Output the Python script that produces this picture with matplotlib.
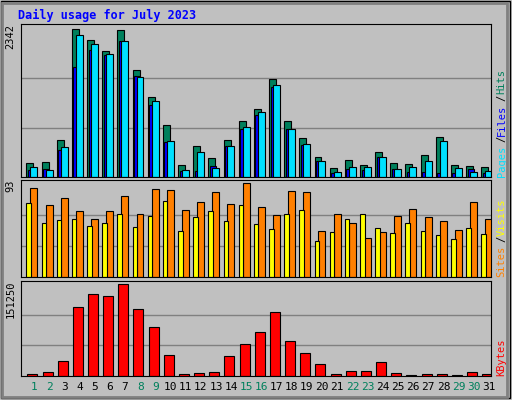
import matplotlib
matplotlib.use("Agg")
import matplotlib.pyplot as plt
import numpy as np

days = list(range(1, 32))
weekend = [1, 2, 8, 9, 15, 16, 22, 23, 29, 30]
hits = [228,244,593,2342,2167,1992,2326,1690,1261,816,196,498,307,593,895,1070,1547,895,625,323,148,276,196,403,228,212,355,641,196,180,164]
files = [164,117,482,2247,2103,1945,2151,1579,1198,578,117,403,148,498,800,1023,1452,768,530,260,85,164,164,323,132,164,260,578,148,85,101]
pages = [117,132,434,1738,2008,1929,2151,1595,1134,562,101,101,180,498,768,975,1420,768,514,260,69,132,117,323,132,85,85,69,69,132,69]
visits = [88,71,78,65,58,65,80,63,87,86,66,74,84,72,93,69,62,85,84,46,63,54,39,45,61,67,60,56,47,74,58]
sites = [73,54,57,58,51,54,63,50,61,75,46,60,65,56,71,53,48,63,66,36,45,58,63,49,44,54,46,42,38,49,43]
kbytes = [3860,7170,25400,113100,134700,131400,151250,109800,80000,35300,3860,5500,7170,33700,53500,71800,104900,56900,38600,20400,3860,8800,8800,23700,5500,2200,3860,3860,2200,7170,3860]

mono = "DejaVu Sans Mono"
fig = plt.figure(figsize=(5.12, 4.0), dpi=100, facecolor="#C0C0C0")
x = np.arange(31)
bg = "#C0C0C0"

def mkax(bottom, height, top):
    ax = fig.add_axes([0.041, bottom, 0.918, height], facecolor=bg)
    ax.set_xlim(-0.86, 30.14)
    ax.set_ylim(0, top * 1.035)
    for f in (1/3, 2/3):
        ax.axhline(top * f, color="#808080", lw=1, zorder=0)
    ax.set_xticks([]); ax.set_yticks([])
    for s in ax.spines.values():
        s.set_color("black")
    return ax

def maxlabel(ax, v):
    ax.text(-0.012, 1.0, str(v), transform=ax.transAxes, rotation=90, ha="right", va="top",
            fontsize=7.5, family=mono)

ax1 = mkax(0.5575, 0.3825, max(hits))
kw = dict(edgecolor="black", linewidth=0.8, align="edge")
ax1.bar(x - 0.5, hits, 0.46, color="#00805C", **kw)
ax1.bar(x - 0.4, pages, 0.4, color="#0000FF", **kw)
ax1.bar(x - 0.24, files, 0.46, color="#00E0FF", **kw)
maxlabel(ax1, max(hits))

ax2 = mkax(0.3075, 0.2425, max(visits))
ax2.bar(x - 0.24, visits, 0.46, color="#FF8000", **kw)
ax2.bar(x - 0.5, sites, 0.3, color="#FFFF00", **kw)
maxlabel(ax2, max(visits))

ax3 = mkax(0.06, 0.2375, max(kbytes))
ax3.bar(x - 0.44, kbytes, 0.66, color="#FF0000", **kw)
maxlabel(ax3, max(kbytes))

for i, d in enumerate(days):
    ax3.text(i, -0.06, str(d), transform=ax3.get_xaxis_transform(), ha="center", va="top",
             fontsize=8, family=mono, color="#00805C" if d in weekend else "black")

def stack(ax, parts, height_px):
    y = 0.0
    step = 6.9 / height_px
    for t, c in parts:
        ax.text(1.012, y, t, transform=ax.transAxes, rotation=90, ha="left", va="bottom",
                fontsize=7.5, family=mono, color=c)
        y += len(t) * step

stack(ax1, [("Pages", "#00E0FF"), ("/", "black"), ("Files", "#0000FF"), ("/", "black"), ("Hits", "#00805C")], 153)
stack(ax2, [("Sites", "#FF8000"), ("/", "black"), ("Visits", "#FFFF00")], 97)
stack(ax3, [("KBytes", "#FF0000")], 95)

fig.text(0.035, 0.962, "Daily usage for July 2023", color="#0000FF", fontsize=8.5, weight="bold", family=mono, va="center")

fig.patches.append(matplotlib.patches.Rectangle((0.002, 0.004), 0.994, 0.993, transform=fig.transFigure,
                                               fill=False, edgecolor="black", lw=1))
fig.patches.append(matplotlib.patches.Rectangle((0.004, 0.008), 0.986, 0.985, transform=fig.transFigure,
                                               fill=False, edgecolor="#808080", lw=2))
fig.savefig("out.png", dpi=100, facecolor=fig.get_facecolor())
